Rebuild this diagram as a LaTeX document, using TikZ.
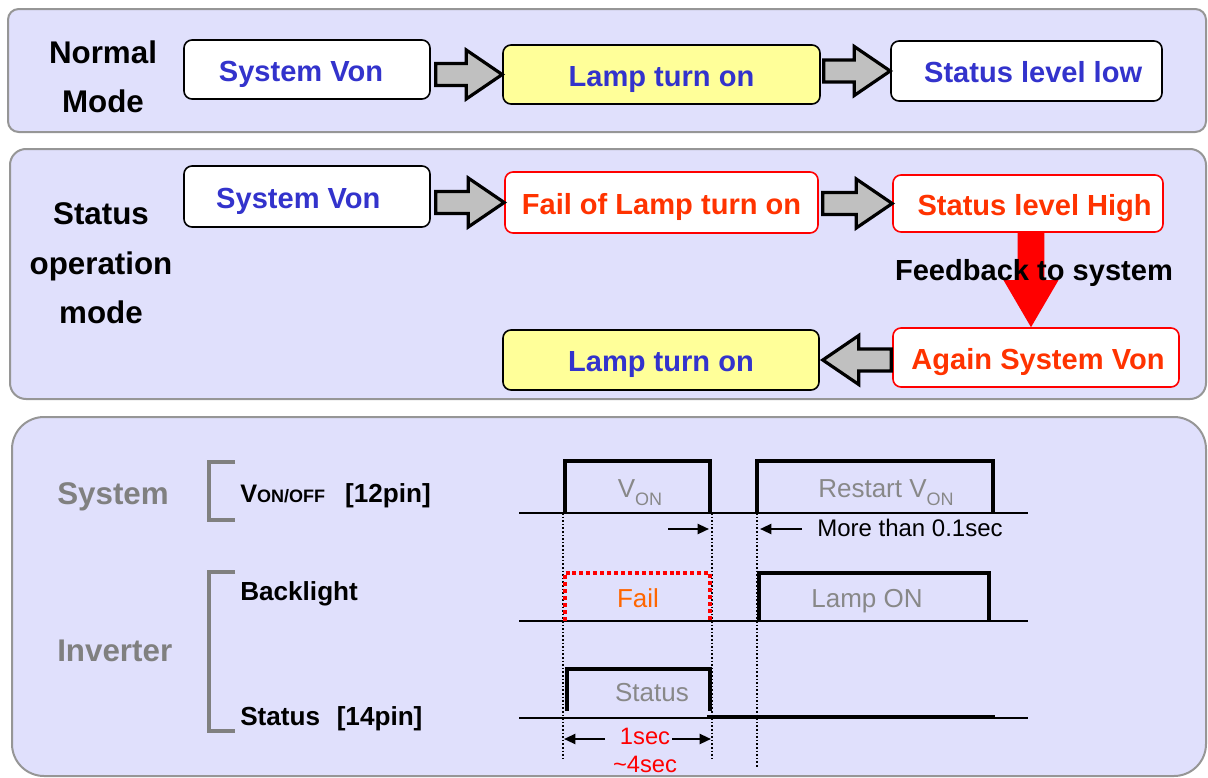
\documentclass[tikz,border=0pt]{standalone}
\usepackage{fontspec}
\setmainfont{Liberation Sans}
\usetikzlibrary{calc,arrows.meta}
\definecolor{panel}{RGB}{224,224,252}
\definecolor{pborder}{RGB}{150,150,150}
\definecolor{tblue}{RGB}{51,51,204}
\definecolor{tred}{RGB}{255,51,0}
\definecolor{lyellow}{RGB}{255,255,153}
\definecolor{agray}{RGB}{192,192,192}
\definecolor{tgray}{RGB}{128,128,128}
\definecolor{lgray}{RGB}{136,136,136}
\definecolor{forange}{RGB}{255,102,0}
\newcommand\blockarrow[2]{%
  \draw[blockarr] let \p1=(#1), \p2=(#2), \p3=($(#2)!27pt!(#1)$) in
    (\x1,\y1+8.25pt) -- (\x3,\y1+8.25pt) -- (\x3,\y1+18.4pt) -- (\x2,\y1)
    -- (\x3,\y1-18.4pt) -- (\x3,\y1-8.25pt) -- (\x1,\y1-8.25pt) -- cycle;}
\begin{document}
\begin{tikzpicture}[x=0.75pt,y=-0.75pt,
  panelbox/.style={draw=pborder, line width=1.5pt, fill=panel},
  boxsize/.style 2 args={minimum width=#1*0.75pt, minimum height=#2*0.75pt},
  flowbox/.style={draw=black, line width=1.2pt, rounded corners=6pt, fill=white,
    inner sep=0pt, text height=17.3pt, text depth=0pt, text=tblue,
    font=\fontsize{21.8}{26}\selectfont\bfseries},
  yellowbox/.style={flowbox, fill=lyellow},
  redbox/.style={flowbox, draw=red, text=tred},
  blockarr/.style={draw=black, line width=2.4pt, fill=agray, line join=miter},
  title/.style={align=center, font=\fontsize{23.5}{37}\selectfont\bfseries},
  grouplabel/.style={anchor=west, text=tgray, inner sep=0pt, font=\fontsize{23.5}{28}\selectfont\bfseries},
  sigl/.style={anchor=west, inner sep=0pt, font=\fontsize{19.6}{24}\selectfont\bfseries},
  bracket/.style={draw=tgray, line width=3pt},
  baseln/.style={draw=black, line width=0.8pt},
  pulse/.style={draw=black, line width=3.5pt},
  vdot/.style={draw=black, line width=0.9pt, dash pattern=on 1.2pt off 1.5pt},
  wavetext/.style={text=lgray, inner sep=0pt, font=\fontsize{19.5}{24}\selectfont},
  dimarr/.style={draw=black, line width=1.6pt, -{Triangle[length=8.5pt,width=7.5pt]}},
]
\useasboundingbox (0,0) rectangle (1208,778);

% panels
\draw[panelbox, rounded corners=8pt] (8,9) rectangle (1206,132);
\draw[panelbox, rounded corners=12pt] (10,149) rectangle (1206,399);
\draw[panelbox, rounded corners=24pt] (12,417) rectangle (1206,776);

% ---- Normal mode
\node[title] (tn) at (103,77) {Normal\\Mode};
\node[flowbox, boxsize={246}{59}] (a1) at (307,69.5) {\kern-9pt System Von};
\node[yellowbox, boxsize={317}{59}] (a2) at (661.5,74.5) {Lamp turn on};
\node[flowbox, boxsize={271}{60}] (a3) at (1026.5,71) {\kern10pt Status level low};
\blockarrow{$(a1.east |- a2.west)+(5,0)$}{a2.west}
\blockarrow{$(a2.east |- a3.west)+(3,0)$}{a3.west}

% ---- Status operation mode
\node[title] (ts) at (101,263.5) {Status\\operation\\mode};
\node[flowbox, boxsize={246}{61}] (b1) at (307,196.5) {\kern-13pt System Von};
\node[redbox, boxsize={313}{61}] (b2) at (661.5,202.5) {Fail of Lamp turn on};
\node[redbox, boxsize={270}{57}] (b3) at (1028,203.5) {\kern10pt Status level High};
\node[redbox, boxsize={286}{59}] (b4) at (1036,357.5) {\kern3pt Again System Von};
\node[yellowbox, boxsize={316}{60}] (b5) at (661,360) {Lamp turn on};
\blockarrow{$(b1.east |- b2.west)+(5,0)$}{b2.west}
\blockarrow{$(b2.east |- b3.west)+(4,0)$}{b3.west}
\blockarrow{$(b4.west |- b5.east)+(-1,0)$}{$(b5.east)+(3,0)$}
% red feedback arrow
\coordinate (ft) at ($(b3.south)+(3,0)$);
\coordinate (fh) at (ft |- b4.north);
\fill[red] let \p1=(ft), \p2=(fh) in
  (\x1-10.1pt,\y1) -- (\x1+10.1pt,\y1) -- (\x1+10.1pt,\y2+35.25pt) -- (\x1+20.6pt,\y2+35.25pt)
  -- (\x2,\y2) -- (\x1-20.6pt,\y2+35.25pt) -- (\x1-10.1pt,\y2+35.25pt) -- cycle;
\node[font=\fontsize{21.8}{26}\selectfont\bfseries] (fb) at (1034,273) {Feedback to system};

% ---- Timing panel
\node[grouplabel] (gs) at (57,497) {System};
\node[grouplabel] (gi) at (57,651) {Inverter};
\draw[bracket] (235,462) -- (209,462) -- (209,520) -- (235,520);
\draw[bracket] (235,572) -- (209,572) -- (209,731) -- (235,731);
\node[sigl] (s1) at (240,496) {{\fontsize{19}{20}\selectfont V}{\fontsize{13.5}{14}\selectfont ON/OFF}\hspace{15pt}[12pin]};
\node[sigl] (s2) at (240,594) {Backlight};
\node[sigl] (s3) at (240,719) {Status\hspace{12.5pt}[14pin]};

% baselines
\draw[baseln] (519,513) -- (1028,513);
\draw[baseln] (519,621) -- (1028,621);
\draw[baseln] (519,718) -- (1028,718);

% dotted guides
\draw[vdot] (563,513) -- (563,760);
\draw[vdot] (712,513) -- (712,760);
\draw[vdot] (757,513) -- (757,768);

% V_ON pulses
\draw[pulse] (565,513) -- (565,461) -- (710,461) -- (710,513);
\draw[pulse] (757,513) -- (757,461) -- (993,461) -- (993,513);
\node[wavetext] (von) at (640,493) {V\raisebox{-6pt}{\fontsize{13.5}{14}\selectfont ON}};
\node[wavetext] (rvon) at (886,493) {Restart V\raisebox{-6pt}{\fontsize{13.5}{14}\selectfont ON}};
\draw[dimarr] (668,529) -- (709,529);
\draw[dimarr] (802,529) -- (760,529);
\node[anchor=west, inner sep=0pt, font=\fontsize{18}{22}\selectfont] (mt) at (817,528) {More than 0.1sec};

% Backlight
\draw[red, line width=3pt, dash pattern=on 3pt off 2.2pt] (565,621) -- (565,573) -- (710,573) -- (710,621);
\node[wavetext, text=forange] (fail) at (638,598) {Fail};
\draw[pulse] (759,621) -- (759,573) -- (989,573) -- (989,621);
\node[wavetext] (lon) at (867,601) {Lamp ON};

% Status
\draw[pulse] (567,711) -- (567,669) -- (710,669) -- (710,711);
\draw[pulse] (707,717) -- (995,717);
\node[wavetext] (st) at (652,693) {Status};
\draw[dimarr] (605,739) -- (564,739);
\draw[dimarr] (672,739) -- (711,739);
\node[text=red, inner sep=0pt, font=\fontsize{17.8}{22}\selectfont] (t1) at (645,736) {1sec};
\node[text=red, inner sep=0pt, font=\fontsize{17.8}{22}\selectfont] (t2) at (645,764) {\textasciitilde4sec};
\end{tikzpicture}
\end{document}
